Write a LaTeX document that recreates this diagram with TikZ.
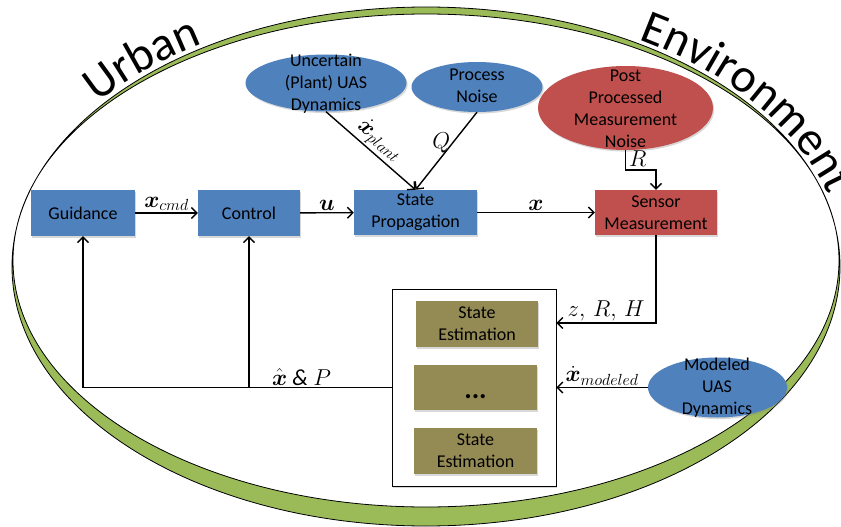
\RequirePackage{fix-cm}
\documentclass[tikz,border=0pt]{standalone}
\usepackage{amsmath}
\usepackage{fontspec}
\setmainfont{Carlito}
\usetikzlibrary{arrows.meta,shapes.geometric,shadows,decorations.text}
\definecolor{ublue}{HTML}{4F81BD}
\definecolor{ured}{HTML}{C0504D}
\definecolor{uolive}{HTML}{948A54}
\definecolor{ugreen}{HTML}{9BBB59}
\begin{document}
\begin{tikzpicture}[x=1pt,y=-1pt,
  shad/.style={drop shadow={shadow xshift=1.2pt,shadow yshift=-1.6pt,opacity=0.3}},
  blockbox/.style={rectangle,draw=none,shad,minimum height=46pt,inner sep=0pt,
    align=center,font={\fontsize{18}{22}\selectfont},text=black},
  bluebox/.style={blockbox,fill=ublue},
  redbox/.style={blockbox,fill=ured},
  olivebox/.style={blockbox,fill=uolive,minimum width=123pt},
  ellshape/.style={ellipse,draw=none,shad,inner sep=0pt},
  etext/.style={align=center,font={\fontsize{18}{22}\selectfont},inner sep=0pt},
  conn/.style={line width=1.4pt,-{Straight Barb[length=5.5pt,width=11pt,line width=1.4pt]}},
  lab/.style={font={\fontsize{23}{23}\selectfont},inner sep=1.5pt}
]
\useasboundingbox (0,0) rectangle (841,527);
\fill[white] (0,0) rectangle (841,527);

% crescent
\path[fill=ugreen,draw=black,line width=0.8pt,even odd rule]
  (426,266.5) ellipse [x radius=414pt,y radius=259.5pt]
  (426,260.5) ellipse [x radius=413pt,y radius=246.5pt];

% curved words
\path[decorate,decoration={text along path,text align=center,
   text={|\fontsize{48}{48}\selectfont|Urban}}]
  (64.0,134.5) arc[start angle=150,end angle=115.5,x radius=418pt,y radius=264pt];
\path[decorate,decoration={text along path,text align=center,
   text={|\fontsize{48}{48}\selectfont|Environment}}]
  (622.2,33.4) arc[start angle=62,end angle=12,x radius=418pt,y radius=264pt];

% blocks
\node[bluebox,minimum width=104pt] (guid) at (83,213) {Guidance};
\node[bluebox,minimum width=102pt] (ctrl) at (249,213) {Control};
\node[bluebox,minimum width=123pt,minimum height=45pt] (sp) at (415.5,212.5) {State\\Propagation};
\node[redbox,minimum width=122pt,minimum height=45pt] (sens) at (656,212.5) {Sensor\\Measurement};

% ellipses
\node[ellshape,fill=ublue,minimum width=161pt,minimum height=57pt] (unc) at (326,83) {};
\node[etext] (unct) at (326,84) {Uncertain\\(Plant) UAS\\Dynamics};
\node[ellshape,fill=ublue,minimum width=131pt,minimum height=50pt] (pn) at (477,87) {};
\node[etext] (pnt) at (477,86) {Process\\Noise};
\node[ellshape,fill=ured,minimum width=175pt,minimum height=84pt] (pp) at (625.5,108) {};
\node[etext] (ppt) at (625.5,109) {Post\\Processed\\Measurement\\Noise};
\node[ellshape,fill=ublue,minimum width=139pt,minimum height=60pt] (mod) at (717.5,387.5) {};
\node[etext] (modt) at (717,388) {Modeled\\UAS\\Dynamics};

% estimator bank
\node[draw=black,fill=white,line width=0.8pt,minimum width=164pt,minimum height=197pt,inner sep=0pt,shad] (est) at (474,387.5) {};
\node[olivebox,minimum width=122pt] (se1) at (477,324) {State\\Estimation};
\node[olivebox,minimum height=45pt] (se2) at (475.5,387.5) {\raisebox{-11pt}[0pt][0pt]{\fontsize{28}{28}\selectfont\bfseries ...}};
\node[olivebox] (se3) at (475.5,451) {State\\Estimation};

% connectors
\draw[conn] (guid) -- node[lab,above]{$\boldsymbol{x}_{cmd}$} (ctrl);
\draw[conn] (ctrl) -- node[lab,above]{$\boldsymbol{u}$} (sp);
\draw[conn] (sp) -- node[lab,above]{$\boldsymbol{x}$} (sens);
\draw[conn] (unc.south) -- node[lab,sloped,above,pos=0.5]{$\dot{\boldsymbol{x}}_{plant}$} (sp.north);
\draw[conn] (pn.south) -- node[lab,left,pos=0.4]{$Q$} (sp.north);
\coordinate (rbend) at (625.5,170);
\draw[conn] (pp.south) -- node[lab,right,pos=0.45,inner sep=3pt]{$R$} (rbend) -| (sens.north);
\draw[conn] (sens.south) |- node[lab,above,pos=0.75]{$z,\,R,\,H$} ([yshift=64.5pt]est.east);
\draw[conn] (mod.west) -- node[lab,above]{$\dot{\boldsymbol{x}}_{modeled}$} (est.east);
\draw[conn] (est.west) -| node[lab,above,pos=0.146]{$\hat{\boldsymbol{x}}$ \textit{\&} $P$} (guid.south);
\draw[conn] (ctrl.south |- est.west) -- (ctrl.south);
\end{tikzpicture}
\end{document}
